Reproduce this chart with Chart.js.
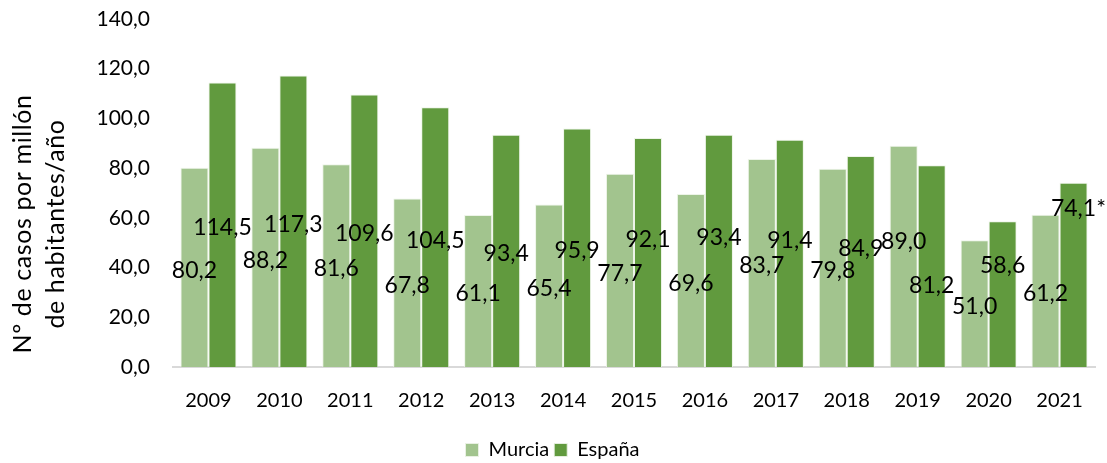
<!DOCTYPE html>
<html>
<head>
<meta charset="utf-8">
<script src="https://cdn.jsdelivr.net/npm/chart.js@4/dist/chart.umd.min.js"></script>
<style>
  html, body { margin: 0; padding: 0; background: #fff; }
  #wrap { width: 1107px; height: 463px; }
</style>
</head>
<body>
<div id="wrap"><canvas id="chart" width="1107" height="463"></canvas></div>
<script>
const years = ['2009','2010','2011','2012','2013','2014','2015','2016','2017','2018','2019','2020','2021']
const murcia = [80.2, 88.2, 81.6, 67.8, 61.1, 65.4, 77.7, 69.6, 83.7, 79.8, 89.0, 51.0, 61.2]
const espana = [114.5, 117.3, 109.6, 104.5, 93.4, 95.9, 92.1, 93.4, 91.4, 84.9, 81.2, 58.6, 74.1]
const espanaNotes = ['', '', '', '', '', '', '', '', '', '', '', '', '*']
const yTitle = ['Nº de casos por millón', 'de habitantes/año']

// value labels were hand-placed in the original, so a few are shifted (px)
const murciaNudge = [0,0,0,0,0,0,0,0,0,0,-18,0,0]
const espanaNudge = [0,0,0,0,0,0,-16,-16,-16,-16,16,-32,-69]

const FONT = 'Lato, "Open Sans", sans-serif'

const fmt = v => v.toFixed(1).replace('.', ',')

const valueLabels = {
  id: 'valueLabels',
  afterDatasetsDraw(chart) {
    const ctx = chart.ctx
    ctx.save()
    ctx.font = '23px ' + FONT
    ctx.fillStyle = '#000'
    ctx.textAlign = 'center'
    ctx.textBaseline = 'middle'
    chart.data.datasets.forEach((ds, i) => {
      const meta = chart.getDatasetMeta(i)
      meta.data.forEach((bar, j) => {
        const note = ds.notes ? ds.notes[j] : ''
        const y = (bar.y + bar.base) / 2 + 3 + ds.nudge[j]
        const w = ctx.measureText(note).width
        ctx.fillText(fmt(ds.data[j]) + note, bar.x + w / 2, y)
      })
    })
    ctx.restore()
  }
}

// two-line y title, sits a bit below the middle of the axis like the original
const axisTitle = {
  id: 'axisTitle',
  afterDraw(chart) {
    const ctx = chart.ctx
    ctx.save()
    ctx.font = '25px ' + FONT
    ctx.letterSpacing = '0.6px'
    ctx.fillStyle = '#000'
    ctx.textAlign = 'center'
    ctx.textBaseline = 'middle'
    ctx.translate(0, 224)
    ctx.rotate(-Math.PI / 2)
    ctx.fillText(yTitle[0], 0, 23)
    ctx.fillText(yTitle[1], 0, 56)
    ctx.restore()
  }
}

new Chart(document.getElementById('chart'), {
  type: 'bar',
  data: {
    labels: years,
    datasets: [
      { label: 'Murcia', data: murcia, nudge: murciaNudge, backgroundColor: '#a2c48e',
        borderColor: 'rgba(235,243,230,0.9)', borderWidth: 1 },
      { label: 'España', data: espana, nudge: espanaNudge, notes: espanaNotes, backgroundColor: '#619a3e',
        borderColor: 'rgba(235,243,230,0.9)', borderWidth: 1 }
    ]
  },
  options: {
    responsive: false,
    animation: false,
    layout: { padding: { top: 0, right: 12, left: 10, bottom: -7 } },
    datasets: { bar: { categoryPercentage: 0.79, barPercentage: 1 } },
    plugins: {
      tooltip: { enabled: false },
      legend: {
        position: 'bottom',
        labels: { font: { size: 20, family: FONT }, color: '#000', boxWidth: 13, boxHeight: 13, padding: 5 }
      }
    },
    scales: {
      x: {
        grid: { display: false, drawTicks: false },
        border: { color: '#d9d9d9', width: 2 },
        ticks: { font: { size: 20, family: FONT }, color: '#000', padding: 22 }
      },
      y: {
        min: 0, max: 140,
        grid: { display: false, drawTicks: false },
        border: { display: false },
        afterFit: s => { s.width = 163; s.paddingTop = 19 },
        ticks: {
          stepSize: 20, padding: 23,
          font: { size: 21, family: FONT }, color: '#000',
          callback: v => fmt(v)
        }
      }
    }
  },
  plugins: [valueLabels, axisTitle]
})
</script>
</body>
</html>
